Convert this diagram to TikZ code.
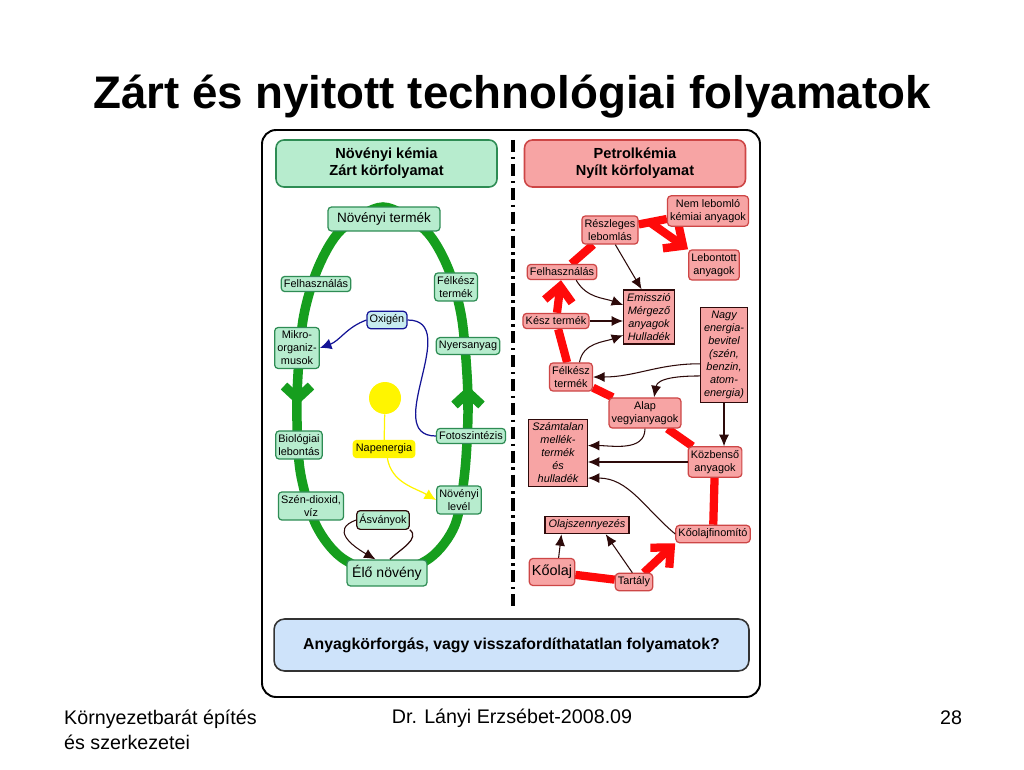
\documentclass[tikz,border=0pt]{standalone}
\usepackage{fontspec}
\setmainfont{Liberation Sans}
\usepackage{xcolor}
\usepackage{tikz}
\usetikzlibrary{shapes,arrows.meta,positioning,calc}
\definecolor{gfill}{RGB}{183,236,206}
\definecolor{gline}{RGB}{46,140,84}
\definecolor{rfill}{RGB}{247,164,164}
\definecolor{rline}{RGB}{205,70,70}
\definecolor{dline}{RGB}{45,10,10}
\definecolor{cyclegreen}{RGB}{22,158,30}
\definecolor{flowred}{RGB}{255,10,10}
\definecolor{qfill}{RGB}{206,227,250}
\definecolor{oxfill}{RGB}{200,236,240}
\definecolor{oxline}{RGB}{20,20,150}
\definecolor{sunyellow}{RGB}{255,245,0}
\newcommand{\nodefont}{\fontsize{6.2}{7.4}\selectfont}
\tikzstyle{gbox} = [rectangle, rounded corners=2pt, draw=gline, fill=gfill, line width=0.7pt, align=center, inner xsep=1.5pt, inner ysep=2pt, font=\nodefont]
\tikzstyle{rbox} = [gbox, draw=rline, fill=rfill]
\tikzstyle{sbox} = [rectangle, draw=dline, fill=rfill, line width=0.7pt, align=center, inner sep=2pt, font=\nodefont\itshape]
\tikzstyle{header} = [rectangle, rounded corners=4.5pt, line width=0.9pt, minimum width=4.42cm, minimum height=0.94cm, align=center, font=\fontsize{8.3}{9.7}\selectfont\bfseries]
\tikzstyle{cycleline} = [line width=5.4pt, draw=cyclegreen]
\tikzstyle{redline} = [line width=4.7pt, draw=flowred]
\tikzstyle{bigtip} = [-{Straight Barb[length=3mm,width=5.5mm]}]
\tikzstyle{cycletip} = [-{Straight Barb[length=2.5mm,width=5.4mm]}]
\tikzstyle{outarrow} = [line width=0.6pt, draw=dline, -{Latex[length=2.3mm,width=2mm]}]
\pgfdeclarelayer{background}
\pgfsetlayers{background,main}

\begin{document}
\begin{tikzpicture}[x=0.02cm, y=-0.02cm]
					\begin{pgfonlayer}{background}
					\fill[white] (0,0) rectangle (1024,770);
					\end{pgfonlayer}
					\useasboundingbox (0,0) rectangle (1024,770);
					\node[font=\fontsize{26}{30}\selectfont\bfseries] (title) at (512,97) {Zárt és nyitott technológiai folyamatok};
					\draw[line width=1.1pt, rounded corners=8pt] (262,130) rectangle (760,697);
					\draw[line width=1.8pt, dash pattern=on 7pt off 2.6pt on 1.4pt off 2.6pt] (513,140) -- (513,608);

					\node (lhead) [header, draw=gline, fill=gfill] at (386.5,163.5) {Növényi kémia\\Zárt körfolyamat};
					\node (rhead) [header, draw=rline, fill=rfill] at (635,163.5) {Petrolkémia\\Nyílt körfolyamat};

					\node (ntermek) [gbox, font=\fontsize{7.7}{9}\selectfont, minimum width=2.24cm, minimum height=0.48cm] at (384,219) {Növényi termék};
					\node (lfelh) [gbox] at (316,284) {Felhasználás};
					\node (lfelkesz) [gbox] at (456,287) {Félkész\\termék};
					\node (oxi) [gbox, draw=oxline, fill=oxfill] at (387,320) {Oxigén};
					\node (mikro) [gbox] at (297,348) {Mikro-\\organiz-\\musok};
					\node (nyers) [gbox] at (468,346) {Nyersanyag};
					\node (sun) [circle, fill=sunyellow, minimum size=0.64cm, inner sep=0pt] at (385,398) {};
					\node (nap) [gbox, draw=sunyellow, fill=sunyellow] at (384,449) {Napenergia};
					\node (foto) [gbox] at (471,436) {Fotoszintézis};
					\node (biol) [gbox] at (299,445) {Biológiai\\lebontás};
					\node (szen) [gbox] at (311,506) {Szén-dioxid,\\víz};
					\node (level) [gbox] at (459,500) {Növényi\\levél};
					\node (asv) [gbox, draw=dline] at (383,520) {Ásványok};
					\node (elo) [gbox, font=\fontsize{8}{9.4}\selectfont, minimum width=1.6cm, minimum height=0.52cm] at (387,573) {Élő növény};

					\node (nemleb) [rbox] at (708,211) {Nem lebomló\\kémiai anyagok};
					\node (reszl) [rbox] at (610,230) {Részleges\\lebomlás};
					\node (lebont) [rbox] at (714,265) {Lebontott\\anyagok};
					\node (rfelh) [rbox] at (562,272) {Felhasználás};
					\node (emis) [sbox] at (649,317) {Emisszió\\Mérgező\\anyagok\\Hulladék};
					\node (nagy) [sbox] at (724,355) {Nagy\\energia-\\bevitel\\(szén,\\benzin,\\atom-\\energia)};
					\node (kesz) [rbox] at (556,321) {Kész termék};
					\node (rfelkesz) [rbox] at (571,377) {Félkész\\termék};
					\node (alap) [rbox] at (645,413) {Alap\\vegyianyagok};
					\node (szamt) [sbox] at (558,453) {Számtalan\\mellék-\\termék\\és\\hulladék};
					\node (kozben) [rbox] at (715,462) {Közbenső\\anyagok};
					\node (olaj) [sbox] at (587,525) {Olajszennyezés};
					\node (finom) [rbox] at (713,534) {Kőolajfinomító};
					\node (koolaj) [rbox, font=\fontsize{8.2}{9.6}\selectfont, minimum height=0.54cm] at (552,572) {Kőolaj};
					\node (tartaly) [rbox] at (634,582) {Tartály};

					\node (question) [rectangle, rounded corners=6pt, draw=black!80, line width=0.9pt, fill=qfill, minimum width=9.5cm, minimum height=1.04cm, font=\fontsize{9}{11}\selectfont\bfseries] at (511.5,645) {Anyagkörforgás, vagy visszafordíthatatlan folyamatok?};

					\node (foot) [anchor=west, align=left, font=\fontsize{11.2}{14.2}\selectfont] at (58,730) {Környezetbarát építés\\és szerkezetei};
					\node (author) [font=\fontsize{11.2}{13}\selectfont] at (512,718) {Dr. Lányi Erzsébet-2008.09};
					\node (page) [font=\fontsize{11.2}{13}\selectfont] at (951,718) {28};

					\begin{pgfonlayer}{background}
					\draw[cycleline] plot[smooth cycle] coordinates {(383,207) (341,230) (318,268) (303,320) (297,398) (300,470) (316,525) (342,558) (386,575) (430,558) (455,525) (465,470) (468,398) (462,320) (448,268) (425,230)};
					\draw[cycleline, cycletip] (297.5,380) -- (297.5,405);
					\draw[cycleline, cycletip] (468,410) -- (468,386);
					\draw [redline] (koolaj) -- (tartaly);
					\draw [redline, bigtip] (tartaly) -- (finom.south west);
					\draw [redline] (finom) -- (kozben);
					\draw [redline] (kozben) -- (alap);
					\draw [redline] (alap) -- (rfelkesz);
					\draw [redline] (rfelkesz) -- (kesz);
					\draw [redline, bigtip] (kesz) -- (rfelh);
					\draw [redline] (rfelh) -- (reszl);
					\draw [redline] (reszl) -- (nemleb);
					\draw [redline, bigtip] ($(reszl.east)!0.4!(nemleb.west)$) -- (lebont.north west);
					\end{pgfonlayer}

					\draw [oxline, line width=0.7pt, -{Latex[length=2.3mm,width=2.2mm]}] (oxi.west) to[out=200, in=20] (mikro.east);
					\draw [oxline, line width=0.7pt] (oxi.east) to[out=0, in=180, looseness=1.2] (foto.west);
					\draw [sunyellow, line width=0.7pt] (sun) -- (nap);
					\draw [sunyellow, line width=0.7pt, -{Latex[length=2.3mm,width=2.2mm]}] (nap.-70) to[out=-80, in=150] (level.west);
					\draw [dline, line width=0.7pt] (elo.78) to[out=45, in=-40] (asv.-20);
					\draw [outarrow] (asv.west) to[out=200, in=150, looseness=1.6] (elo.130);

					\draw [outarrow] (reszl.-70) -- (emis.105);
					\draw [outarrow] (rfelh.-30) to[out=-60, in=160] (emis.155);
					\draw [outarrow] (kesz.east) -- (kesz.east -| emis.west);
					\draw [outarrow] (rfelkesz.60) to[out=80, in=200] (emis.215);
					\draw [outarrow] (nagy.200) to[out=180, in=0] (rfelkesz.east);
					\draw [outarrow] (nagy.221) to[out=180, in=80] (alap.60);
					\draw [outarrow] (nagy.south) -- (nagy.south |- kozben.north);
					\draw [outarrow] (alap.south) to[out=-90, in=0] (szamt.14);
					\draw [outarrow] (kozben.west) -- (kozben.west -| szamt.east);
					\draw [outarrow] (finom.west) to[out=140, in=0] (szamt.-40);
					\draw [outarrow] (koolaj.65) -- ($(olaj.south west)!0.2!(olaj.south east)$);
					\draw [outarrow] (tartaly.100) -- ($(olaj.south west)!0.72!(olaj.south east)$);
\end{tikzpicture}
\end{document}
